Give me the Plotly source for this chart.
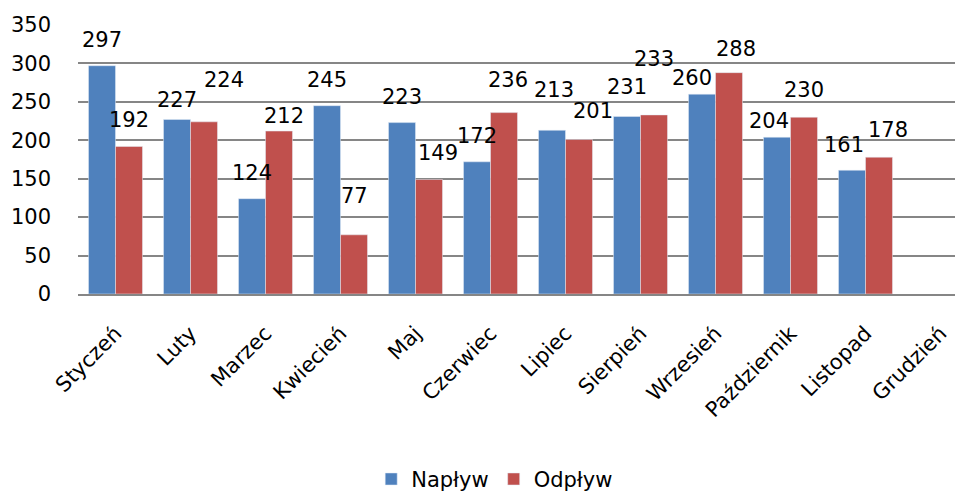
import plotly.graph_objects as go

months = ["Styczeń", "Luty", "Marzec", "Kwiecień", "Maj", "Czerwiec", "Lipiec",
          "Sierpień", "Wrzesień", "Październik", "Listopad", "Grudzień"]
naplyw = [297, 227, 124, 245, 223, 172, 213, 231, 260, 204, 161, None]
odplyw = [192, 224, 212, 77, 149, 236, 201, 233, 288, 230, 178, None]
yticks = [0, 50, 100, 150, 200, 250, 300, 350]

# label placement tweaks (pixels): horizontal shift and gap above bar top
nap_dx = [0, 0, 0, 0, 0, 0, 2, 0, -10, -8, -8, 0]
nap_gap = [19, 13, 19, 19, 19, 19, 33, 22, 9, 9, 18, 0]
odp_dx = [0, 20, 5, 0, 9, 4, 14, 0, 7, 0, 9, 0]
odp_gap = [19, 35, 8, 32, 19, 26, 22, 49, 17, 20, 20, 0]

BLUE = "#4F81BD"
RED = "#C0504D"
FONT = "DejaVu Sans"
FS = 21
DESC = 7

fig = go.Figure()
fig.add_trace(go.Bar(x=months, y=naplyw, name="Napływ", marker_color=BLUE))
fig.add_trace(go.Bar(x=months, y=odplyw, name="Odpływ", marker_color=RED))

annotations = []
for vals, shift, dxs, gaps in ((naplyw, -13.5, nap_dx, nap_gap), (odplyw, 13.5, odp_dx, odp_gap)):
    for m, v, dx, g in zip(months, vals, dxs, gaps):
        if v is None:
            continue
        annotations.append(dict(x=m, y=v, text=str(v), showarrow=False,
                                xref="x", yref="y", xshift=shift + dx, yshift=g - DESC,
                                yanchor="bottom",
                                font=dict(family=FONT, size=FS, color="black")))

# the page body has an 8px margin; the plot area runs past the right edge of the view
fig.update_layout(
    width=975, height=485,
    margin=dict(l=70, r=5, t=17, b=199, autoexpand=False),
    paper_bgcolor="white", plot_bgcolor="white",
    barmode="group", bargap=0.28, bargroupgap=0,
    font=dict(family=FONT, size=FS, color="black"),
    annotations=annotations,
    showlegend=True,
    legend=dict(orientation="h", x=0.463, xanchor="center", y=-0.689, yanchor="middle",
                font=dict(family=FONT, size=FS), itemwidth=30),
    xaxis=dict(tickangle=-45, showgrid=False, showline=True, linecolor="#868686",
               linewidth=1.5, ticks="", tickfont=dict(size=FS), automargin=False,
               ticklabelstandoff=17),
    yaxis=dict(range=[0, 350], tickvals=yticks, showgrid=True, gridcolor="#868686",
               gridwidth=1.5, zeroline=False, showline=False, ticks="",
               tickfont=dict(size=FS), ticklabelstandoff=26, automargin=False),
)

fig.write_html("out.html")
